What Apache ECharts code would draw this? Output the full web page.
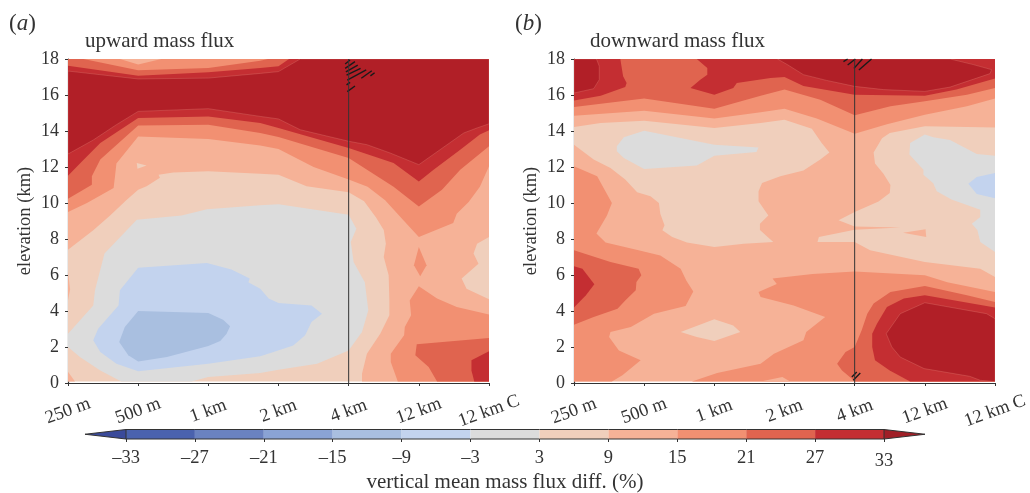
<!DOCTYPE html>
<html>
<head>
<meta charset="utf-8">
<title>vertical mean mass flux diff.</title>
<script src="https://cdn.jsdelivr.net/npm/echarts@6/dist/echarts.min.js"></script>
<style>
  html, body { margin: 0; padding: 0; background: #fff; }
  #chart { width: 1030px; height: 493px; }
</style>
</head>
<body>
<div id="chart"></div>
<script>
const xLabels = ['250 m', '500 m', '1 km', '2 km', '4 km', '12 km', '12 km C'];
const levelLabels = ['\u201333', '\u201327', '\u201321', '\u201315', '\u20139', '\u20133', '3', '9', '15', '21', '27', '33'];

// Contour outlines: [x tick position, elevation in km]
const upFrame = [[0, 0.08], [6, 0.08], [6, 18], [0, 18]];
const upOver9 = [[0, 7.4], [.36, 8.48], [.6, 9.3], [.83, 10.15], [1, 10.74], [1.12, 10.93], [1.31, 11.4], [1.29, 11.57], [1.5, 11.7], [2, 11.76], [2.74, 11.63], [3, 11.57], [3.4, 10.93], [4, 10.6], [4.22, 10.1], [4.39, 9.2], [4.5, 8.5], [4.53, 7.74], [4.5, 7], [4.57, 5.98], [4.58, 4.6], [4.58, 3.76], [4.45, 2.74], [4.26, 1.63], [4.19, .52], [4.19, .08], [6, .08], [6, 4.65], [5.68, 5.24], [5.61, 5.8], [5.85, 6.63], [5.78, 7.19], [5.83, 7.74], [6, 8.11], [6, 18], [0, 18]];
const upOver9Corner = [[0, .62], [.1, .08], [0, .08]];
const upOver9Sliver = [[0, 6.2], [.03, 5.2], [0, 4.6]];
const upNotch = [[.98, 12.22], [1.12, 12.09], [.99, 11.9]];
const upOver15 = [[0, 9.5], [.27, 10], [.65, 10.83], [.67, 11.48], [.69, 12.2], [1, 13.7], [2, 13.56], [2.74, 13.2], [3, 13], [3.5, 12], [4, 11.3], [4.27, 10.9], [4.52, 10.15], [4.78, 9.04], [5, 8.11], [5.49, 8.89], [5.54, 9.4], [5.71, 10.05], [5.87, 10.9], [6, 12.04], [6, 18], [1.33, 18], [1, 17.69], [.74, 18], [0, 18]];
const upOver15Island = [[5, 7.56], [5.11, 6.54], [5.02, 5.93], [4.93, 6.54]];
const upOver15Low = [[5, 5.37], [4.87, 4.59], [4.89, 3.76], [4.8, 3.11], [4.79, 2.65], [4.6, 1.63], [4.6, 1.17], [4.7, .08], [6, .08], [6, 3.81], [5.54, 4.22], [5.26, 4.69]];
const upOver21 = [[0, 10.24], [.34, 11.02], [.34, 11.48], [.46, 12.41], [1, 14.3], [2, 14.35], [2.74, 13.89], [3, 13.67], [4, 12.5], [4.64, 10.9], [5, 9.81], [5.33, 10.74], [5.59, 11.85], [6, 13.15], [6, 18], [2.85, 18], [2.74, 17.9], [2, 17.5], [1, 17.37], [.22, 18], [0, 18]];
const upOver21Low = [[4.97, 2.15], [6, 2.5], [6, .08], [5.26, .08], [5.14, .89], [4.95, 1.54]];
const upOver27 = [[0, 11.52], [.17, 12.2], [.46, 13.33], [1, 14.72], [2, 14.8], [2.74, 14.44], [3, 14.17], [4, 13.06], [4.64, 12.22], [5, 11.2], [5.21, 11.85], [5.59, 12.96], [5.87, 13.8], [6, 14.04], [6, 18], [3.15, 18], [3, 17.6], [2.74, 17.5], [2, 17.26], [1, 17.07], [0, 17.63]];
const upOver27Low = [[5.75, 1.26], [6, 1.76], [6, .08], [5.79, .08], [5.75, .7]];
const upOver33 = [[0, 12.72], [.36, 13.5], [.69, 14.35], [1, 15.09], [2, 15.24], [2.74, 14.81], [3, 14.67], [3.31, 14.07], [4, 13.43], [4.26, 13.24], [4.59, 12.78], [5, 12.13], [5.64, 13.89], [5.83, 14.17], [6, 14.4], [6, 18], [3.31, 18], [3, 17.3], [2.74, 17.2], [2, 16.94], [1, 16.89], [0, 17.33]];
const upNear0 = [[0, 2.74], [.36, 4.3], [.385, 5.15], [.52, 7.2], [.98, 9.07], [1.62, 9.3], [1.98, 9.65], [2.74, 9.87], [3, 9.93], [4, 9.35], [4.11, 8.57], [4.03, 7.83], [4.07, 6.72], [4.23, 5.6], [4.28, 4.04], [4.19, 2.83], [4, 1.81], [3.55, 1.07], [3, .74], [2.74, .55], [2, .33], [1.76, .08], [.76, .08], [.46, .7], [.17, 1.44], [0, 2]];
const upUnder3 = [[.36, 2.37], [.43, 3.02], [.72, 4.31], [.74, 5.15], [1, 6.4], [1.98, 6.67], [2.33, 6.31], [2.59, 5.8], [2.57, 5.6], [2.74, 5.24], [2.86, 4.69], [3, 4.44], [3.47, 4.31], [3.62, 3.85], [3.47, 3.39], [3.38, 2.65], [3.21, 2.09], [2.93, 1.72], [2.74, 1.48], [2, 1.07], [1, .65], [.69, 1.07], [.46, 1.72]];
const upUnder9 = [[.73, 2.28], [.81, 3.11], [1, 4], [2, 3.89], [2.21, 3.52], [2.31, 3.15], [2.26, 2.74], [2.17, 2.33], [2, 2.06], [1.41, 1.44], [1, 1.2], [.86, 1.54]];

const downFrame = [[0, 0.08], [6, 0.08], [6, 18], [0, 18]];
const downUnder9Main = [[0, 14.22], [.38, 14.44], [1, 14.57], [2, 14.17], [2.66, 14.44], [3, 14.63], [3.39, 14.13], [3.53, 13.33], [3.64, 12.81], [3.51, 12.41], [3.27, 11.81], [2.94, 11.48], [2.68, 11.11], [2.63, 10.65], [2.63, 10.1], [2.77, 9.3], [2.65, 8.85], [2.65, 8.5], [2.84, 7.83], [2.42, 7.74], [2, 7.56], [1.61, 7.8], [1.4, 8.11], [1.26, 8.48], [1.29, 8.76], [1.23, 9.4], [1.21, 10], [1.09, 10.37], [.9, 10.6], [.73, 11.3], [.52, 11.94], [.28, 12.41], [0, 13.24]];
const downUnder9Small = [[1.52, 2.83], [2, 3.54], [2.27, 3.2], [2.37, 2.83], [2, 2.33], [1.75, 2.56]];
const downUnder9Right = [[6, 14.2], [5, 14.26], [4.5, 13.89], [4.39, 13.6], [4.27, 12.81], [4.29, 12.2], [4.41, 11.63], [4.51, 11], [4.5, 10.55], [4.34, 10.09], [4, 9.5], [3.77, 9.04], [4, 8.7], [4, 8.52], [3.49, 8.11], [3.47, 7.83], [4, 7.83], [4.22, 7.37], [5, 6.72], [5.79, 6.35], [6, 5.89]];
const downSliver = [[4, 8.7], [4.65, 8.64], [4, 8.52]];
const downIsland = [[4.69, 8.35], [5.01, 8.54], [5.02, 8.11]];
const downNear0Left = [[.61, 13.15], [.71, 13.65], [1, 14.02], [2, 13.24], [2.63, 13.09], [2.6, 12.83], [2, 12.63], [1.75, 12.09], [1, 11.89], [.71, 12.5], [.61, 12.87]];
const downNear0Right = [[5, 13.8], [4.79, 13.33], [4.78, 12.69], [4.98, 11.85], [4.98, 11.57], [5.12, 11.1], [5.17, 10.65], [5.38, 10.19], [5.79, 9.63], [5.79, 9.22], [5.67, 8.85], [5.75, 8.48], [5.79, 7.83], [6, 7.28], [6, 12.63], [5.74, 12.72], [5.36, 13.5], [5.12, 13.65]];
const downUnder3 = [[6, 11.67], [5.74, 11.44], [5.62, 11.07], [5.74, 10.5], [6, 10.26]];
const downOver15Top = [[0, 14.85], [1, 15.13], [2, 14.7], [2.66, 15.04], [3, 15.24], [3.46, 14.7], [4, 13.85], [4.46, 14.37], [5, 14.9], [5.6, 15.37], [6, 15.8], [6, 18], [0, 18]];
const downOver15Left = [[0, 12.04], [.33, 11.48], [.54, 10], [.47, 9.3], [.32, 8.3], [.45, 7.8], [.92, 7.37], [1.23, 7.09], [1.52, 6.35], [1.6, 5.7], [1.7, 5.09], [1.59, 4.28], [1.14, 3.85], [.81, 3.11], [.52, 2.83], [.5, 2.56], [.64, 1.81], [.95, 1.26], [.69, .43], [.54, .08], [0, .08]];
const downOver15Right = [[2.63, 5.05], [2.89, 5.5], [2.83, 5.8], [3.4, 6.05], [4, 6.2], [5, 5.98], [5.32, 5.6], [6, 5.06], [6, .08], [1.68, .08], [2.04, .56], [2.66, 1.07], [2.85, 1.63], [3.27, 2.37], [3.31, 2.83], [3.58, 3.67], [3.13, 4.31], [2.66, 4.78]];
const downBottomGap = [[2.66, .08], [2.97, .33], [3.08, .08]];
const downOver21Top = [[0, 15.33], [1, 15.8], [2, 15.24], [2.66, 15.96], [3, 16.3], [3.51, 15.74], [4, 14.87], [4.51, 15.37], [5, 15.65], [5.6, 16.02], [6, 16.39], [6, 18], [0, 18]];
const downOver21Left = [[0, 7.37], [.52, 6.72], [.92, 6.35], [.96, 5.98], [.89, 5.61], [.88, 5.15], [.73, 4.59], [.62, 4.13], [.28, 3.67], [0, 3.24]];
const downOver21Right = [[3.75, 1.07], [3.87, 1.72], [4, 2], [4.1, 2.93], [4.18, 3.85], [4.27, 4.41], [4.51, 5.06], [5, 5.39], [5.6, 4.87], [6, 4.5], [6, .08], [4, .08], [3.96, .24], [3.82, .7]];
const downOver27Top1 = [[0, 15.69], [.38, 15.96], [.73, 16.44], [.75, 16.67], [.7, 17.04], [.66, 18], [0, 18]];
const downOver27Top2 = [[1.75, 18], [1.9, 17.5], [1.9, 17.13], [1.8, 16.85], [1.66, 16.39], [2, 16.02], [2.27, 16.39], [2.32, 16.67], [2.8, 16.94], [3, 17], [3.27, 16.5], [4, 16.02], [5, 15.96], [5.45, 16.3], [6, 16.91], [6, 18]];
const downOver27Left = [[0, 6.48], [.12, 6.35], [.29, 5.48], [.17, 4.87], [0, 4.19]];
const downOver27Right = [[4.25, 2.74], [4.32, 3.3], [4.46, 4.22], [4.7, 4.69], [5, 4.87], [6, 4.2], [6, .08], [4.79, .08], [4.5, .7], [4.29, 1.26], [4.25, 2]];
const downOver33Top1 = [[0, 16.11], [.28, 16.35], [.36, 16.85], [.36, 17.6], [.32, 18], [0, 18]];
const downOver33Top2 = [[2.9, 18], [3.04, 17.69], [3.27, 17.13], [3.6, 16.81], [4, 16.48], [4.41, 16.3], [5, 16.2], [5.36, 16.44], [5.93, 17.19], [5.95, 17.41], [5.69, 17.69], [5.36, 18]];
const downOver33Low = [[4.45, 2.74], [4.65, 3.85], [5, 4.46], [5.88, 3.85], [6, 3.57], [6, .08], [5.79, .15], [5.64, .37], [4.99, .8], [4.65, 1.44], [4.53, 2]];

// Significance hatching: [x1, y1, x2, y2]
const upHatch = [[3.95, 17.72, 4.02, 17.94], [3.95, 17.48, 4.09, 17.85], [3.96, 17.28, 4.13, 17.66], [3.97, 17.11, 4.17, 17.48], [3.98, 16.83, 4.25, 17.39], [4.18, 16.93, 4.33, 17.35], [4.31, 17.06, 4.37, 17.24], [3.98, 16.19, 4.09, 16.5], [3.97, 16.56, 4.02, 16.7]];
const downHatch = [[3.84, 17.85, 3.9, 18], [3.9, 17.67, 4.01, 18], [3.99, 17.48, 4.11, 18], [4.06, 17.39, 4.24, 18], [3.96, .33, 4.03, .61], [3.98, .15, 4.08, .56]];

const COLORS = {
    under15: '#a9bfe0',
    under9: '#c3d3ee',
    near0: '#dcdcdc',
    over3: '#f0cfbc',
    over9: '#f6b297',
    over15: '#f29072',
    over21: '#e0644f',
    over27: '#c42e32',
    over33: '#b11f27'
};
const BAR_COLORS = ['#4a62ae', '#6a82c0', '#8aa3d4', '#a9bfe0', '#c3d3ee', '#dcdcdc', '#f0cfbc', '#f6b297', '#f29072', '#e0644f', '#c42e32'];
const TEXT = '#333';
const FONT = '"Liberation Serif", serif';

// Paint order matters: each layer covers the ones before it
const upLayers = [
    ['over3', upFrame], ['over9', upOver9], ['over9', upOver9Corner], ['over9', upOver9Sliver], ['over3', upNotch],
    ['over15', upOver15], ['over15', upOver15Island], ['over15', upOver15Low],
    ['over21', upOver21], ['over21', upOver21Low], ['over27', upOver27], ['over27', upOver27Low], ['over33', upOver33],
    ['near0', upNear0], ['under9', upUnder3], ['under15', upUnder9]
];
const downLayers = [
    ['over9', downFrame], ['over3', downUnder9Main], ['over3', downUnder9Small], ['over3', downUnder9Right],
    ['over9', downSliver], ['over9', downIsland], ['near0', downNear0Left], ['near0', downNear0Right], ['under9', downUnder3],
    ['over15', downOver15Top], ['over15', downOver15Left], ['over15', downOver15Right], ['over9', downBottomGap],
    ['over21', downOver21Top], ['over21', downOver21Left], ['over21', downOver21Right],
    ['over27', downOver27Top1], ['over27', downOver27Top2], ['over27', downOver27Left], ['over27', downOver27Right],
    ['over33', downOver33Top1], ['over33', downOver33Top2], ['over33', downOver33Low]
];

function contourSeries(layers, axisIndex) {
    return {
        type: 'custom',
        xAxisIndex: axisIndex,
        yAxisIndex: axisIndex,
        clip: true,
        silent: true,
        animation: false,
        data: layers.map((_, i) => [i]),
        renderItem: (params, api) => {
            const layer = layers[params.dataIndex];
            const dark = layer[0] === 'over33';
            return {
                type: 'polygon',
                shape: { points: layer[1].map(p => api.coord(p)) },
                style: {
                    fill: COLORS[layer[0]],
                    stroke: dark ? 'rgba(236,150,135,0.45)' : null,
                    lineWidth: dark ? 0.6 : 0
                }
            };
        }
    };
}

function hatchSeries(segments, axisIndex) {
    return {
        type: 'custom',
        xAxisIndex: axisIndex,
        yAxisIndex: axisIndex,
        silent: true,
        animation: false,
        z: 4,
        data: segments.map((_, i) => [i]),
        renderItem: (params, api) => {
            const s = segments[params.dataIndex];
            const a = api.coord([s[0], s[1]]);
            const b = api.coord([s[2], s[3]]);
            return {
                type: 'line',
                shape: { x1: a[0], y1: a[1], x2: b[0], y2: b[1] },
                style: { stroke: '#1a1a1a', lineWidth: 1.4 }
            };
        }
    };
}

function markerLine(axisIndex) {
    return {
        type: 'line',
        xAxisIndex: axisIndex,
        yAxisIndex: axisIndex,
        silent: true,
        animation: false,
        symbol: 'none',
        z: 5,
        lineStyle: { color: '#333', width: 1 },
        data: [[4, 0], [4, 18]]
    };
}

function panelXAxis(gridIndex) {
    return {
        type: 'value',
        gridIndex,
        min: 0,
        max: 6,
        interval: 1,
        splitLine: { show: false },
        axisLine: { onZero: false, lineStyle: { color: TEXT, width: 1.2 } },
        axisTick: { length: 3, lineStyle: { color: TEXT } },
        axisLabel: {
            rotate: 20,
            margin: 28,
            align: 'center',
            verticalAlign: 'middle',
            color: TEXT,
            fontFamily: FONT,
            fontSize: 18.5,
            formatter: v => xLabels[v]
        }
    };
}

function panelYAxis(gridIndex) {
    return {
        type: 'value',
        gridIndex,
        min: 0,
        max: 18,
        interval: 2,
        name: 'elevation (km)',
        nameLocation: 'middle',
        nameRotate: 90,
        nameGap: 33,
        nameTextStyle: { color: TEXT, fontFamily: FONT, fontSize: 18.5 },
        splitLine: { show: false },
        axisLine: { show: true, lineStyle: { color: TEXT, width: 1.2 } },
        axisTick: { show: true, length: 3, lineStyle: { color: TEXT } },
        axisLabel: { margin: 9, color: TEXT, fontFamily: FONT, fontSize: 18 }
    };
}

function panelTag(letter, left) {
    return {
        text: '({i|' + letter + '})',
        left,
        top: 12,
        padding: 0,
        textStyle: {
            color: TEXT,
            fontFamily: FONT,
            fontSize: 23,
            fontWeight: 'normal',
            rich: { i: { fontStyle: 'italic', fontFamily: FONT, fontSize: 23, color: TEXT } }
        }
    };
}

function panelTitle(text, left) {
    return {
        text,
        left,
        top: 31,
        padding: 0,
        textStyle: { color: TEXT, fontFamily: FONT, fontSize: 21, fontWeight: 'normal' }
    };
}

const chart = echarts.init(document.getElementById('chart'));

chart.setOption({
    animation: false,
    backgroundColor: '#fff',
    title: [
        panelTag('a', 9),
        panelTag('b', 515),
        panelTitle('upward mass flux', 85),
        panelTitle('downward mass flux', 590)
    ],
    grid: [
        { left: 68, top: 59, width: 421, height: 324, outerBoundsMode: 'none' },
        { left: 574, top: 59, width: 421, height: 324, outerBoundsMode: 'none' },
        { left: 126, top: 429.5, width: 758, height: 9.5, outerBoundsMode: 'none' }
    ],
    xAxis: [
        panelXAxis(0),
        panelXAxis(1),
        {
            type: 'value',
            gridIndex: 2,
            min: 0,
            max: 11,
            interval: 1,
            name: 'vertical mean mass flux diff. (%)',
            nameLocation: 'middle',
            nameGap: 32,
            nameTextStyle: { color: TEXT, fontFamily: FONT, fontSize: 21 },
            splitLine: { show: false },
            axisLine: { show: false },
            axisTick: { length: 3, lineStyle: { color: TEXT } },
            axisLabel: {
                margin: 10,
                color: TEXT,
                fontFamily: FONT,
                fontSize: 18.5,
                formatter: v => v === 11 ? '{low|' + levelLabels[v] + '}' : levelLabels[v],
                rich: { low: { fontFamily: FONT, fontSize: 18.5, color: TEXT, padding: [3, 0, 0, 0] } }
            }
        }
    ],
    yAxis: [
        panelYAxis(0),
        panelYAxis(1),
        { type: 'value', gridIndex: 2, min: 0, max: 1, show: false }
    ],
    series: [
        contourSeries(upLayers, 0),
        markerLine(0),
        hatchSeries(upHatch, 0),
        contourSeries(downLayers, 1),
        markerLine(1),
        hatchSeries(downHatch, 1),
        {
            // colour bar: one cell per contour interval plus the two end arrows
            type: 'custom',
            xAxisIndex: 2,
            yAxisIndex: 2,
            silent: true,
            animation: false,
            data: BAR_COLORS.map((_, i) => [i]),
            renderItem: (params, api) => {
                const i = params.dataIndex;
                const a = api.coord([i, 1]);
                const b = api.coord([i + 1, 0]);
                const children = [{
                    type: 'rect',
                    shape: { x: a[0], y: a[1], width: b[0] - a[0], height: b[1] - a[1] },
                    style: { fill: BAR_COLORS[i] }
                }, {
                    type: 'line',
                    shape: { x1: a[0], y1: a[1], x2: b[0], y2: a[1] },
                    style: { stroke: '#333', lineWidth: 1 }
                }, {
                    type: 'line',
                    shape: { x1: a[0], y1: b[1], x2: b[0], y2: b[1] },
                    style: { stroke: '#333', lineWidth: 1 }
                }];
                if (i === 0 || i === BAR_COLORS.length - 1) {
                    const tip = i === 0 ? api.coord([-0.595, 0.5]) : api.coord([11.595, 0.5]);
                    const edge = i === 0 ? a[0] : b[0];
                    children.push({
                        type: 'polygon',
                        shape: { points: [[edge, a[1]], tip, [edge, b[1]]] },
                        style: { fill: i === 0 ? '#3a4a9a' : '#a01f27', stroke: '#333', lineWidth: 1 }
                    });
                }
                return { type: 'group', children };
            }
        }
    ]
});
</script>
</body>
</html>
